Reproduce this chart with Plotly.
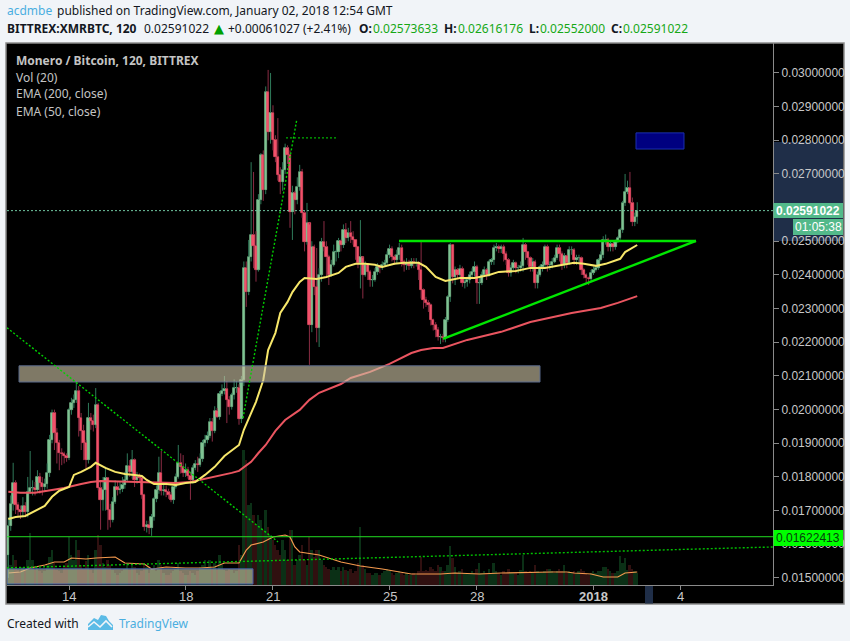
import pandas as pd
import plotly.graph_objects as go

W, H = 850, 641
START = "2017-12-11 22:00"
FIRST_OPEN = 0.01568

# prices in units of 0.00001 BTC
closes = [
 1654,1720,1782,1717,1702,1696,1714,1696,1756,1767,
 1767,1761,1800,1782,1770,1779,1812,1910,1990,1931,
 1901,1871,1868,1862,1856,1999,2020,2029,2055,1975,
 1937,1901,1850,1975,1966,1955,2014,1767,1732,1761,
 1797,1702,1672,1726,1770,1761,1764,1776,1791,1833,
 1815,1850,1791,1800,1797,1747,1651,1657,1648,1681,
 1735,1761,1812,1758,1761,1755,1747,1732,1770,1800,
 1842,1830,1812,1821,1803,1791,1827,1839,1836,1853,
 1901,1910,1922,1963,1937,1996,1978,2047,2055,2061,
 2029,2008,2044,2064,2064,1972,2088,2421,2349,2453,
 2519,2486,2415,2623,2756,2652,2943,2825,2881,2801,
 2750,2697,2676,2712,2777,2756,2587,2643,2623,2661,
 2706,2584,2498,2554,2251,2483,2364,2243,2400,2498,
 2483,2453,2400,2430,2468,2468,2501,2489,2534,2510,
 2525,2513,2504,2483,2436,2453,2400,2430,2409,2385,
 2385,2409,2424,2421,2430,2436,2459,2477,2453,2444,
 2459,2480,2439,2430,2436,2427,2439,2436,2436,2415,
 2355,2326,2317,2311,2266,2251,2237,2216,2216,2213,
 2266,2335,2489,2394,2415,2400,2418,2376,2379,2385,
 2400,2409,2424,2376,2376,2400,2415,2400,2439,2444,
 2480,2483,2477,2483,2462,2444,2406,2421,2436,2421,
 2421,2427,2489,2468,2450,2424,2439,2376,2400,2424,
 2430,2483,2430,2430,2439,2450,2480,2462,2430,2456,
 2436,2474,2474,2444,2450,2450,2415,2400,2391,2388,
 2406,2415,2421,2444,2459,2504,2504,2483,2492,2483,
 2498,2510,2534,2614,2647,2658,2614,2557,2573,2591]
highs = [
 1680,1745,1842,1790,1725,1715,1740,1725,1800,1877,
 1790,1785,1820,1812,1800,1795,1840,1925,2000,2000,
 1945,1910,1885,1875,1870,2005,2035,2045,2085,2070,
 1990,1955,1910,2020,1990,1985,2064,2020,1790,1800,
 1830,1800,1720,1740,1790,1785,1785,1800,1815,1870,
 1850,1880,1855,1815,1810,1800,1750,1670,1670,1690,
 1740,1775,1860,1877,1780,1775,1765,1755,1775,1810,
 1895,1870,1865,1840,1830,1815,1835,1850,1860,1870,
 1910,1925,1935,1975,1975,2010,2005,2055,2075,2100,
 2085,2040,2050,2090,2085,2075,2100,2440,2440,2504,
 2735,2706,2530,2640,2762,2770,2960,3009,3000,2904,
 2815,2866,2720,2735,2790,2785,2770,2665,2650,2690,
 2727,2715,2590,2614,2550,2500,2490,2480,2420,2510,
 2560,2500,2460,2445,2490,2475,2510,2505,2550,2554,
 2540,2560,2530,2505,2485,2563,2450,2440,2435,2415,
 2400,2420,2435,2430,2440,2445,2470,2490,2485,2460,
 2475,2495,2490,2445,2450,2445,2450,2450,2450,2440,
 2498,2360,2335,2325,2315,2270,2260,2245,2225,2225,
 2275,2340,2495,2490,2425,2420,2430,2425,2390,2395,
 2410,2420,2440,2430,2395,2410,2425,2420,2445,2450,
 2490,2495,2490,2490,2490,2470,2450,2430,2445,2440,
 2430,2440,2510,2495,2470,2455,2450,2445,2410,2430,
 2440,2490,2490,2440,2450,2460,2490,2490,2470,2465,
 2460,2485,2485,2480,2460,2460,2455,2420,2405,2395,
 2415,2425,2430,2450,2470,2515,2520,2510,2500,2495,
 2505,2515,2540,2620,2700,2680,2706,2630,2585,2616]
lows = [
 1500,1640,1700,1690,1680,1675,1680,1680,1680,1750,
 1745,1745,1755,1750,1745,1755,1765,1800,1900,1880,
 1840,1820,1835,1840,1845,1850,1985,2005,2020,1920,
 1880,1850,1825,1840,1940,1935,1945,1760,1643,1700,
 1700,1643,1650,1665,1720,1745,1750,1755,1765,1785,
 1800,1795,1770,1780,1785,1735,1640,1635,1630,1625,
 1670,1725,1750,1745,1745,1740,1735,1725,1720,1765,
 1795,1810,1800,1800,1795,1732,1780,1820,1815,1830,
 1845,1890,1900,1915,1905,1930,1975,1970,2040,2045,
 1960,1985,2000,2030,2050,1955,1960,2070,2305,2340,
 2440,2420,2380,2410,2610,2620,2640,2800,2790,2770,
 2735,2680,2640,2650,2700,2730,2540,2504,2580,2610,
 2650,2570,2470,2490,2133,2230,2340,2200,2186,2380,
 2470,2395,2370,2395,2425,2440,2450,2470,2480,2495,
 2500,2495,2490,2445,2420,2360,2330,2395,2385,2365,
 2365,2380,2400,2405,2415,2425,2430,2450,2440,2430,
 2435,2445,2425,2410,2415,2415,2420,2420,2425,2385,
 2330,2300,2305,2290,2250,2235,2215,2205,2195,2200,
 2200,2260,2320,2375,2370,2390,2395,2365,2360,2365,
 2375,2390,2395,2314,2314,2370,2400,2385,2395,2430,
 2430,2470,2465,2465,2440,2430,2395,2395,2415,2405,
 2405,2410,2410,2445,2430,2410,2410,2360,2360,2395,
 2410,2420,2410,2415,2420,2435,2445,2440,2415,2420,
 2420,2430,2460,2430,2430,2435,2400,2390,2375,2370,
 2380,2400,2410,2415,2440,2450,2490,2470,2470,2470,
 2475,2495,2505,2525,2605,2640,2610,2545,2545,2552]
volumes = [
 40,20,30,25,15,12,18,14,25,52,
 25,15,18,14,12,14,20,28,35,22,
 15,14,12,18,22,48,30,25,45,35,
 20,16,24,30,15,12,35,50,40,22,
 18,25,20,15,12,10,12,14,16,22,
 15,20,18,12,10,14,22,18,12,16,
 20,14,25,20,12,10,10,12,14,16,
 22,14,12,10,10,14,12,10,14,18,
 20,25,18,25,16,22,15,30,20,15,
 14,16,15,12,14,40,30,135,125,80,
 82,70,60,70,65,55,75,58,50,45,
 40,35,30,45,35,25,55,55,20,25,
 30,40,25,20,48,35,28,35,35,25,
 20,18,16,15,18,15,18,14,18,15,
 14,16,12,14,22,58,20,16,12,12,
 10,12,12,10,12,14,16,14,12,10,
 12,14,12,10,12,10,10,12,10,14,
 28,14,15,14,18,16,14,20,18,14,
 14,20,39,27,18,12,14,16,12,12,
 12,14,12,16,22,12,14,12,16,12,
 22,14,12,10,14,12,16,12,12,12,
 10,15,30,14,12,14,12,20,14,12,
 12,14,16,16,14,12,14,16,14,20,
 12,14,12,14,12,14,16,14,12,10,
 12,14,12,14,14,18,18,16,14,12,
 12,14,29,22,27,15,20,16,14,12]

ema50_bars = [0,3,7,11,15,18,21,25,27,30,34,36,40,44,48,52,55,57,60,65,69,73,77,81,85,89,95,97,100,102,105,107,110,112,115,117,120,122,127,131,136,139,143,147,151,154,159,163,169,172,176,180,186,192,198,202,209,215,221,229,233,237,242,246,252,254,259]
ema50_vals = [1675,1681,1684,1699,1714,1741,1759,1770,1806,1815,1830,1842,1827,1815,1809,1806,1803,1791,1779,1779,1776,1782,1785,1806,1830,1862,1895,1940,1990,2023,2088,2177,2228,2287,2320,2349,2379,2391,2388,2394,2406,2424,2433,2433,2430,2424,2433,2436,2436,2424,2394,2382,2391,2391,2400,2409,2412,2421,2421,2430,2436,2433,2427,2433,2448,2468,2489]
ema200_bars = [0,5,11,17,23,30,34,38,50,54,62,69,75,81,85,92,95,100,103,106,110,114,120,124,128,137,141,149,157,166,170,175,179,189,203,215,232,244,251,259]
ema200_vals = [1756,1753,1753,1761,1767,1779,1785,1788,1785,1785,1782,1782,1785,1794,1800,1812,1818,1845,1871,1895,1937,1969,1999,2029,2050,2076,2094,2112,2136,2168,2177,2183,2183,2207,2231,2260,2287,2302,2317,2337]
volma_bars = [0,5,9,15,19,23,26,32,36,44,48,56,59,65,73,79,85,89,95,98,100,105,109,114,116,118,120,128,137,145,154,161,166,172,178,184,194,203,215,224,230,233,240,245,251,254,259]
volma_vals = [12,13,17,20,23,23,27,26,27,28,22,21,16,18,17,17,18,22,22,35,40,43,48,50,48,38,33,30,23,19,16,13,11,11,11,12,11,12,13,13,13,12,11,8,8,12,13]

time_tick_vals = ["2017-12-14","2017-12-18","2017-12-21","2017-12-25","2017-12-28","2018-01-01","2018-01-04"]
time_tick_text = ["14","18","21","25","28","<b>2018</b>","4"]
price_ticks = [0.015,0.016,0.017,0.018,0.019,0.020,0.021,0.022,0.023,0.024,0.025,0.027,0.028,0.029,0.030]
LAST_PRICE = 0.02591022
MARK_PRICE = 0.01622413
X_RANGE = ["2017-12-11 20:55","2018-01-07 03:50"]
Y_RANGE = [0.01479,0.03089]
VOL_RANGE = [0,542]

# drawings (time, price)
triangle_top = [("2017-12-25 07:48",0.02501),("2018-01-04 12:24",0.02501)]
triangle_low = [("2017-12-26 20:02",0.02210),("2018-01-04 12:24",0.02501)]
trend_down = [("2017-12-11 20:55",0.02243),("2017-12-21 04:08",0.01607)]
trend_up = [("2017-12-19 23:18",0.01975),("2017-12-21 19:32",0.02860)]
flat_dotted = [("2017-12-21 10:43",0.02807),("2017-12-23 03:54",0.02807)]
vol_dotted = [("2017-12-11 20:55",0.01530),("2018-01-07 03:50",0.01592)]
zone_main = [("2017-12-12 06:49",0.02130),("2017-12-30 03:55",0.02082)]
zone_low = [("2017-12-11 20:55",0.01527),("2017-12-20 07:32",0.01482)]
zone_blue = [("2018-01-02 11:00",0.02822),("2018-01-04 02:31",0.02774)]

UP, DOWN = "#7fc493", "#f2506a"
UP_W, DOWN_W = "#2f7a5a", "#8a2c44"
UP_V, DOWN_V = "#0b3016", "#301010"
BG = "#f1f4f8"
GRAY = "#8a8a8a"
AX_TXT = "#c8c8c8"

times = pd.date_range(START, periods=len(closes), freq="2h")
c = [v * 1e-5 for v in closes]
o = [FIRST_OPEN] + c[:-1]
h = [v * 1e-5 for v in highs]
l = [v * 1e-5 for v in lows]
up = [a >= b for a, b in zip(c, o)]
idx_up = [i for i in range(len(c)) if up[i]]
idx_dn = [i for i in range(len(c)) if not up[i]]
BAR_MS = 2 * 3600 * 1000

def fx(px): return px / W
def fy(py): return 1 - py / H

fig = go.Figure()

# volume (under the candles)
fig.add_trace(go.Bar(x=times, y=volumes, width=BAR_MS * 0.8, yaxis="y",
                     marker=dict(color=[UP_V if u else DOWN_V for u in up], line_width=0), showlegend=False))
fig.add_trace(go.Scatter(x=times[volma_bars], y=volma_vals, yaxis="y", mode="lines",
                         line=dict(color="#f59a4e", width=1.2), showlegend=False))

def wick_trace(idx, col):
    # upper and lower wick only, so that the line does not run over the body
    xs, ys = [], []
    for i in idx:
        top, bot = max(o[i], c[i]), min(o[i], c[i])
        xs += [times[i], times[i], None, times[i], times[i], None]
        ys += [top, h[i], None, l[i], bot, None]
    return go.Scatter(x=xs, y=ys, yaxis="y2", mode="lines", line=dict(color=col, width=1), showlegend=False)

fig.add_trace(wick_trace(idx_up, UP_W))
fig.add_trace(wick_trace(idx_dn, DOWN_W))
for idx, col in ((idx_up, UP), (idx_dn, DOWN)):
    fig.add_trace(go.Bar(x=times[idx], y=[abs(c[i] - o[i]) for i in idx], base=[min(c[i], o[i]) for i in idx],
                         width=BAR_MS * 0.95, yaxis="y2",
                         marker=dict(color=col, line=dict(color=col, width=0.7)), showlegend=False))

fig.add_trace(go.Scatter(x=times[ema200_bars], y=[v * 1e-5 for v in ema200_vals], yaxis="y2", mode="lines",
                         line=dict(color="#ea5560", width=2), showlegend=False))
fig.add_trace(go.Scatter(x=times[ema50_bars], y=[v * 1e-5 for v in ema50_vals], yaxis="y2", mode="lines",
                         line=dict(color="#f7e76a", width=2), showlegend=False))

shapes = []
def seg(pts, color, width, dash="solid"):
    (x0, y0), (x1, y1) = pts
    shapes.append(dict(type="line", xref="x", yref="y2", x0=x0, y0=y0, x1=x1, y1=y1,
                       line=dict(color=color, width=width, dash=dash)))
def box(pts, fill, edge):
    (x0, y0), (x1, y1) = pts
    shapes.append(dict(type="rect", xref="x", yref="y2", x0=x0, y0=y0, x1=x1, y1=y1, fillcolor=fill,
                       line=dict(color=edge, width=1)))
def panel(x0, y0, x1, y1, fill, layer="above", edge=None, w=0):
    shapes.append(dict(type="rect", xref="paper", yref="paper", x0=fx(x0), x1=fx(x1), y0=fy(y1), y1=fy(y0),
                       fillcolor=fill, layer=layer, line=dict(color=edge or fill, width=w)))

panel(6, 43, 844, 604, "#000000", layer="below", edge=GRAY, w=1.5)
panel(773.5, 142, 843, 241, "#1f2e48", layer="below")
panel(645, 586, 653, 603.5, "#1f2e48", layer="below")

box(zone_main, "rgba(205,195,165,0.62)", "#5a6a8c")
box(zone_low, "rgba(205,195,165,0.62)", "#3f5fa8")
box(zone_blue, "#000080", "#1a2fb0")
seg(trend_down, "#00d000", 1.4, "2px,2px")
seg(trend_up, "#00d000", 1.4, "2px,2px")
seg(flat_dotted, "#00b000", 1.2, "2px,2px")
seg(vol_dotted, "#00c000", 1.4, "2px,2px")
seg(triangle_top, "#00e600", 2.4)
seg(triangle_low, "#00e600", 2.4)
shapes.append(dict(type="line", xref="x", yref="y2", x0=X_RANGE[0], x1=X_RANGE[1], y0=LAST_PRICE, y1=LAST_PRICE,
                   line=dict(color="#6fc6a0", width=1, dash="2px,2px")))
shapes.append(dict(type="line", xref="x", yref="y2", x0=X_RANGE[0], x1=X_RANGE[1], y0=MARK_PRICE, y1=MARK_PRICE,
                   line=dict(color="#22dd22", width=1)))

panel(773.5, 203, 843, 218, "#53b98a")
panel(793, 219, 843, 235, "#53b98a")
panel(773.5, 530, 843, 546, "#00ff00")

# TradingView logo
logo = "M88,630 L88,624 L94,618 L98,620 L101,615 L106,616 L109,621 L113,625 L113,630 Z"
def px_path(p):
    out = []
    for tok in p.split():
        if "," in tok:
            cmd = tok[0]
            a, b = tok[1:].split(",")
            out.append(f"{cmd}{fx(float(a)):.5f},{fy(float(b)):.5f}")
        else:
            out.append(tok)
    return " ".join(out)
shapes.append(dict(type="path", xref="paper", yref="paper", path=px_path(logo), fillcolor="#5bbbe6", line_width=0))
zig = "M88,627 L94,622 L100,627 L106,621 L112,627"
shapes.append(dict(type="path", xref="paper", yref="paper", path=px_path(zig), line=dict(color=BG, width=1.6)))

ann = []
def txt(x, y, s, color="#131722", size=12, font="Noto Sans", anchor="left"):
    ann.append(dict(x=fx(x), y=fy(y), xref="paper", yref="paper", text=s, showarrow=False, xanchor=anchor,
                    yanchor="middle", borderpad=0, font=dict(family=font, size=size, color=color)))

BLUE = "#4aaee0"
GREEN = "#16a816"
txt(6, 11, "acdmbe", BLUE)
txt(56, 11, "published on TradingView.com, January 02, 2018 12:54 GMT")
txt(6, 29, "<b>BITTREX:XMRBTC, 120</b>")
txt(143, 29, "0.02591022")
txt(213, 29, "▲", "#00a000", 13, "DejaVu Sans")
txt(227, 29, "+0.00061027 (+2.41%)")
for lx, vx, lab, val in ((358, 372, "O:", "0.02573633"), (443, 457, "H:", "0.02616176"),
                         (528, 539, "L:", "0.02552000"), (610, 622, "C:", "0.02591022")):
    txt(lx, 29, f"<b>{lab}</b>")
    txt(vx, 29, val, GREEN)

LEG = "#c4c4c4"
txt(15, 60, "<b>Monero / Bitcoin, 120, BITTREX</b>", LEG)
txt(15, 77, "Vol (20)", LEG)
txt(15, 94, "EMA (200, close)", LEG)
txt(15, 111, "EMA (50, close)", LEG)

txt(808, 210.5, "<b>0.02591022</b>", "#ffffff", 12, "Liberation Sans", "center")
txt(818, 227, "01:05:38", "#ffffff", 12, "Liberation Sans", "center")
txt(808, 538, "0.01622413", "#06400c", 12, "Liberation Sans", "center")

txt(6, 623, "Created with", "#131722", 12)
txt(118, 623, "TradingView", BLUE, 12)

# time labels sit closer to the axis than Plotly's tick labels would
for tv, tt in zip(time_tick_vals, time_tick_text):
    ann.append(dict(x=tv, xref="x", y=fy(596), yref="paper", text=tt, showarrow=False, xanchor="center",
                    yanchor="middle", borderpad=0, font=dict(family="Liberation Sans", size=13, color=AX_TXT)))

fig.update_layout(
    width=W, height=H, margin=dict(l=0, r=0, t=0, b=0, pad=0),
    paper_bgcolor=BG, plot_bgcolor="#000000", barmode="overlay", bargap=0,
    showlegend=False, shapes=shapes, annotations=ann,
    xaxis=dict(domain=[fx(7), fx(773)], range=X_RANGE, type="date", tickmode="array",
               tickvals=time_tick_vals, showticklabels=False, showgrid=False, zeroline=False,
               showline=True, linecolor=GRAY, linewidth=1, ticks="outside", ticklen=4, tickcolor=GRAY, anchor="y"),
    yaxis=dict(domain=[fy(585), fy(43)], range=VOL_RANGE, visible=False, fixedrange=True),
    yaxis2=dict(domain=[fy(585), fy(43)], range=Y_RANGE, overlaying="y", side="right", anchor="x",
                tickmode="array", tickvals=price_ticks, tickformat=".8f", showgrid=False, zeroline=False,
                showline=True, linecolor=GRAY, linewidth=1, ticks="outside", ticklen=5, tickcolor=GRAY,
                tickfont=dict(family="Liberation Sans", size=12, color=AX_TXT)),
)
fig.write_html("out.html", include_plotlyjs=True, config={"displayModeBar": False},
               post_script="document.body.style.margin='0';")
